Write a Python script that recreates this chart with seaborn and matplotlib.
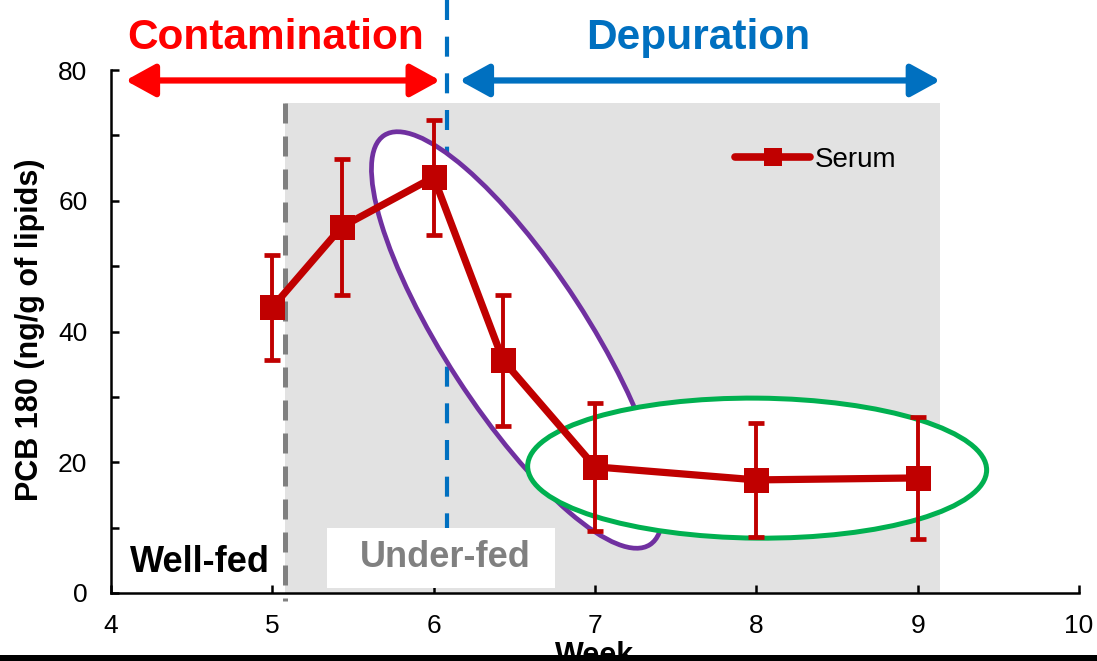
import numpy as np
import matplotlib
matplotlib.use('Agg')
import matplotlib.pyplot as plt
import seaborn as sns
from matplotlib.patches import Ellipse, Rectangle, FancyArrowPatch, ArrowStyle
from matplotlib.transforms import ScaledTranslation
from matplotlib.lines import Line2D
from matplotlib.ticker import MultipleLocator

# data
weeks = [5.0, 5.43, 6.0, 6.43, 7.0, 8.0, 9.0]
serum = [43.7, 56.0, 63.6, 35.6, 19.3, 17.3, 17.6]
serum_err = [8.0, 10.4, 8.8, 10.0, 9.8, 8.7, 9.3]
underfed_start = 5.08
depuration_start = 6.08
shade_end = 9.14
shade_top = 75

red = '#c00000'
sns.set_style('white')
plt.rcParams['font.family'] = ['Liberation Sans', 'DejaVu Sans']

fig = plt.figure(figsize=(10.97, 6.61), dpi=100)
ax = fig.add_axes([111 / 1097, 1 - 593 / 661, 968 / 1097, 523 / 661])
ax.set_xlim(4, 10)
ax.set_ylim(0, 80)

# under-fed shaded period
ax.add_patch(Rectangle((underfed_start, 0), shade_end - underfed_start, shade_top,
                       facecolor='#e2e2e2', edgecolor='none', zorder=0))

# phase separators
ax.plot([depuration_start, depuration_start], [90.7, 0.8], color='#0070c0', lw=3,
        dashes=(4.8, 4.0), clip_on=False, zorder=1)
ax.plot([underfed_start, underfed_start], [shade_top, -1.2], color='#808080', lw=3.6,
        dashes=(4.0, 2.6), clip_on=False, zorder=1)

# highlight ellipses (sized in inches, centred in data coords)
purple = Ellipse((0, 0), 4.88, 1.42, angle=-57, facecolor='white', edgecolor='#7030a0', lw=3.4,
                 transform=fig.dpi_scale_trans + ScaledTranslation(6.517, 38.7, ax.transData), zorder=2)
green = Ellipse((0, 0), 4.59, 1.40, angle=-0.5, facecolor='white', edgecolor='#00b050', lw=3.6,
                transform=fig.dpi_scale_trans + ScaledTranslation(8.005, 19.1, ax.transData), zorder=3)
ax.add_patch(purple)
ax.add_patch(green)

# labels for feeding state
ax.add_patch(Rectangle((5.34, 0.8), 1.41, 9.2, facecolor='white', edgecolor='none', zorder=4))
ax.text(6.07, 5.4, 'Under-fed', color='#808080', fontsize=26, fontweight='bold',
        ha='center', va='center', zorder=5)
ax.text(4.55, 4.6, 'Well-fed', color='black', fontsize=26, fontweight='bold',
        ha='center', va='center', zorder=5)

# serum curve
ax.errorbar(weeks, serum, yerr=serum_err, fmt='none', ecolor=red, elinewidth=2.8,
            capsize=6, capthick=3.4, zorder=6)
sns.lineplot(x=weeks, y=serum, ax=ax, color=red, lw=5.2, marker='s', markersize=18,
             markeredgewidth=0, sort=False, zorder=7)

handle = Line2D([], [], color=red, lw=5.5, marker='s', markersize=13, markeredgewidth=0,
                solid_capstyle='round')
ax.legend([handle], ['Serum'], loc='center left', bbox_to_anchor=(0.645, 0.828), frameon=False,
          fontsize=20, handlelength=2.7, handletextpad=0.15, borderpad=0, borderaxespad=0,
          labelcolor='black')

# phase arrows and headings
for x0, x1, col in [(4.09, 6.04, '#ff0000'), (6.16, 9.14, '#0070c0')]:
    arr = FancyArrowPatch((x0, 78.4), (x1, 78.4), arrowstyle=ArrowStyle('<|-|>', head_length=0.6, head_width=0.33),
                          mutation_scale=30, color=col, lw=4.5, shrinkA=0, shrinkB=0, clip_on=False, zorder=5)
    ax.add_patch(arr)
ax.text(5.02, 84.9, 'Contamination', color='#ff0000', fontsize=30.5, fontweight='bold',
        ha='center', va='center', clip_on=False)
ax.text(7.64, 84.9, 'Depuration', color='#0070c0', fontsize=30.5, fontweight='bold',
        ha='center', va='center', clip_on=False)

# axes styling
sns.despine(ax=ax)
for s in ['left', 'bottom']:
    ax.spines[s].set_linewidth(1.8)
    ax.spines[s].set_color('black')
ax.set_xticks(range(4, 11))
ax.set_yticks(range(0, 81, 20))
ax.yaxis.set_minor_locator(MultipleLocator(10))
ax.tick_params(axis='both', which='both', direction='in', length=6, width=1.8, color='black',
               labelsize=19, labelcolor='black', left=True, bottom=True)
ax.tick_params(axis='x', pad=15)
ax.tick_params(axis='y', pad=17)

fig.text(30 / 1097, 1 - 330 / 661, 'PCB 180 (ng/g of lipids)', rotation=90, fontsize=22,
         fontweight='bold', ha='center', va='center', color='black')
fig.text(595 / 1097, 1 - 641 / 661, 'Week', fontsize=22, fontweight='bold', ha='center', va='top',
         color='black')
fig.patches.append(Rectangle((0, 0), 1, 6 / 661, transform=fig.transFigure, facecolor='black',
                             edgecolor='none', zorder=10))

fig.savefig('out.png', dpi=100)
